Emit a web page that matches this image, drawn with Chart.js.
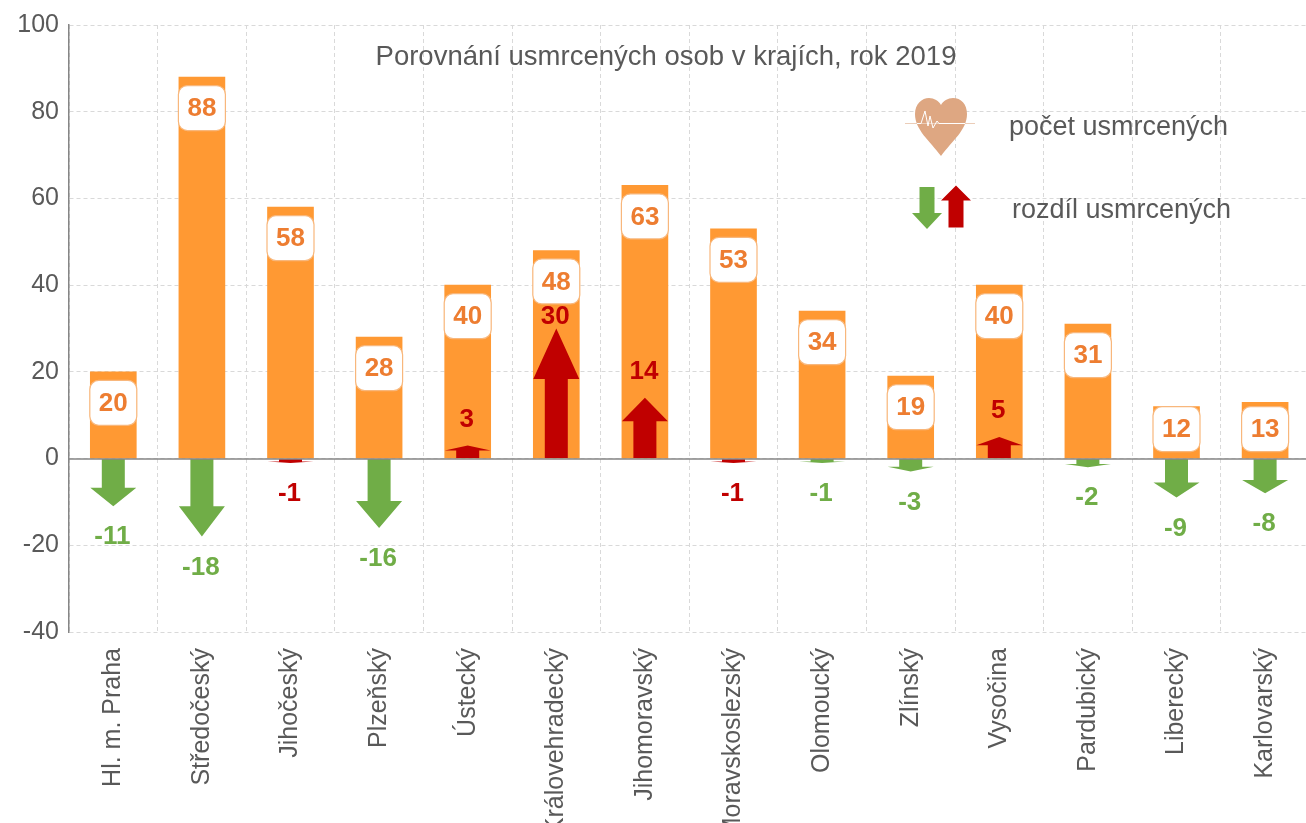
<!DOCTYPE html>
<html lang="cs">
<head>
<meta charset="utf-8">
<style>
html,body{margin:0;padding:0;background:#fff;overflow:hidden;width:1306px;height:823px}
canvas{display:block}
</style>
<script src="https://cdn.jsdelivr.net/npm/chart.js@4"></script>
</head>
<body>
<canvas id="c" width="1320" height="870"></canvas>
<script>
const categories = ['Hl. m. Praha','Středočeský','Jihočeský','Plzeňský','Ústecký','Královehradecký','Jihomoravský','Moravskoslezský','Olomoucký','Zlínský','Vysočina','Pardubický','Liberecký','Karlovarský'];
const usmrceni = [20,88,58,28,40,48,63,53,34,19,40,31,12,13];
const rozdil = [-11,-18,-1,-16,3,30,14,-1,-1,-3,5,-2,-9,-8];
const redNegatives = ['Jihočeský','Moravskoslezský'];
const titleText = 'Porovnání usmrcených osob v krajích, rok 2019';
const legendTexts = ['počet usmrcených','rozdíl usmrcených'];

const FONT = '"Liberation Sans Narrow","Liberation Sans",sans-serif';
const GREY = '#595959', ORANGE = '#FF9933', LABEL = '#ED7D31', GREEN = '#70AD47', RED = '#C00000';
const GRID = '#D9D9D9', AXIS = '#868686';
const diffColor = categories.map((c,i)=> (rozdil[i] > 0 || redNegatives.includes(c)) ? RED : GREEN);

function arrowPath(ctx, x, base, tip, headW, shaftW, headH){
  const d = tip < base ? 1 : -1;
  ctx.beginPath();
  ctx.moveTo(x - shaftW/2, base);
  ctx.lineTo(x - shaftW/2, tip + d*headH);
  ctx.lineTo(x - headW/2, tip + d*headH);
  ctx.lineTo(x, tip);
  ctx.lineTo(x + headW/2, tip + d*headH);
  ctx.lineTo(x + shaftW/2, tip + d*headH);
  ctx.lineTo(x + shaftW/2, base);
  ctx.closePath();
  ctx.fill();
}
function roundBox(ctx,x,y,w,h,r){
  ctx.beginPath();
  ctx.roundRect(x,y,w,h,r);
}

const arrowPlugin = {
  id:'arrows',
  beforeDatasetDraw(chart,args){
    if(args.index !== 1) return;
    const ctx = chart.ctx;
    ctx.save();
    args.meta.data.forEach((el,i)=>{
      const len = Math.abs(el.base - el.y);
      ctx.fillStyle = diffColor[i];
      arrowPath(ctx, el.x, el.base, el.y, el.width, el.width/2, len*0.39);
    });
    ctx.restore();
    return false;
  },
  afterDatasetsDraw(chart){
    const ctx = chart.ctx, y = chart.scales.y, area = chart.chartArea;
    ctx.save();
    // zero line
    ctx.strokeStyle = AXIS; ctx.lineWidth = 1.5;
    const z = Math.round(y.getPixelForValue(0)) + .0;
    ctx.beginPath(); ctx.moveTo(area.left,z); ctx.lineTo(area.right,z); ctx.stroke();
    ctx.textAlign='center'; ctx.textBaseline='middle';
    // value boxes
    const bars = chart.getDatasetMeta(0).data;
    bars.forEach((el,i)=>{
      const cy = Math.min(el.y + 31, y.getPixelForValue(0) - 29.5);
      const bw = 47, bh = 45;
      roundBox(ctx, el.x-bw/2, cy-bh/2, bw, bh, 9);
      ctx.fillStyle='#fff'; ctx.fill();
      ctx.strokeStyle='#F8B77C'; ctx.lineWidth=1.2; ctx.stroke();
      ctx.fillStyle=LABEL; ctx.font='bold 26px '+FONT;
      ctx.fillText(String(usmrceni[i]), el.x, cy+1);
    });
    // difference labels
    chart.getDatasetMeta(1).data.forEach((el,i)=>{
      const v = rozdil[i];
      let cy = v < 0 ? el.y + 30 : el.y - 27;
      if(v >= 30) cy = el.y - 13;
      ctx.fillStyle = diffColor[i]; ctx.font='bold 26px '+FONT;
      ctx.fillText(String(v), el.x-1, cy+1);
    });
    // title
    ctx.fillStyle=GREY; ctx.font='27.5px '+FONT; ctx.textBaseline='middle';
    ctx.fillText(titleText, 666, 57);
    // legend text
    ctx.textAlign='left'; ctx.font='27px '+FONT;
    ctx.fillText(legendTexts[0], 1009, 128);
    ctx.fillText(legendTexts[1], 1012, 211);
    // heart
    ctx.fillStyle='#DEA782';
    ctx.beginPath();
    ctx.moveTo(941,156);
    ctx.bezierCurveTo(930,141,915,130,915,114);
    ctx.bezierCurveTo(915,104,922,98,929,98);
    ctx.bezierCurveTo(934,98,939,101,941,105);
    ctx.bezierCurveTo(943,101,948,98,953,98);
    ctx.bezierCurveTo(961,98,967,104,967,114);
    ctx.bezierCurveTo(967,130,952,141,941,156);
    ctx.closePath(); ctx.fill();
    ctx.strokeStyle='#EBCDB8'; ctx.lineWidth=1;
    ctx.beginPath(); ctx.moveTo(905,123.5); ctx.lineTo(975,123.5); ctx.stroke();
    ctx.strokeStyle='#fff'; ctx.lineWidth=1;
    ctx.beginPath();
    ctx.moveTo(917,123.5); ctx.lineTo(921,123.5); ctx.lineTo(925,111); ctx.lineTo(928,126);
    ctx.lineTo(930,116); ctx.lineTo(933,128); ctx.lineTo(937,121); ctx.lineTo(939,123.5); ctx.lineTo(965,123.5);
    ctx.stroke();
    // legend arrows
    ctx.fillStyle=GREEN; arrowPath(ctx,927,187,229,30,15,16);
    ctx.fillStyle=RED; arrowPath(ctx,956,227.5,185.5,30,15,15);
    ctx.restore();
  }
};

new Chart(document.getElementById('c'),{
  type:'bar',
  data:{labels:categories,datasets:[
    {label:'počet usmrcených',data:usmrceni,backgroundColor:ORANGE,barThickness:46,grouped:false,order:2},
    {label:'rozdíl usmrcených',data:rozdil,backgroundColor:diffColor,barThickness:46,grouped:false,order:1}
  ]},
  options:{
    responsive:false,animation:false,
    layout:{padding:{top:24,right:10.6,left:0,bottom:0}},
    plugins:{legend:{display:false},tooltip:{enabled:false},title:{display:false}},
    scales:{
      x:{
        offset:true,
        grid:{color:GRID,lineWidth:1,drawTicks:false,offset:true},
        border:{display:false,dash:[4,3]},
        afterFit(s){s.height = 870-632;},
        ticks:{minRotation:90,maxRotation:90,autoSkip:false,padding:16,color:GREY,font:{family:FONT,size:25}}
      },
      y:{
        min:-40,max:100,
        afterFit(s){s.width = 69;},
        grid:{color:GRID,lineWidth:1,drawTicks:false},
        border:{display:true,color:AXIS,width:1.5,dash:[4,3]},
        ticks:{stepSize:20,padding:10,color:GREY,font:{family:FONT,size:25}}
      }
    }
  },
  plugins:[arrowPlugin]
});
</script>
</body>
</html>
